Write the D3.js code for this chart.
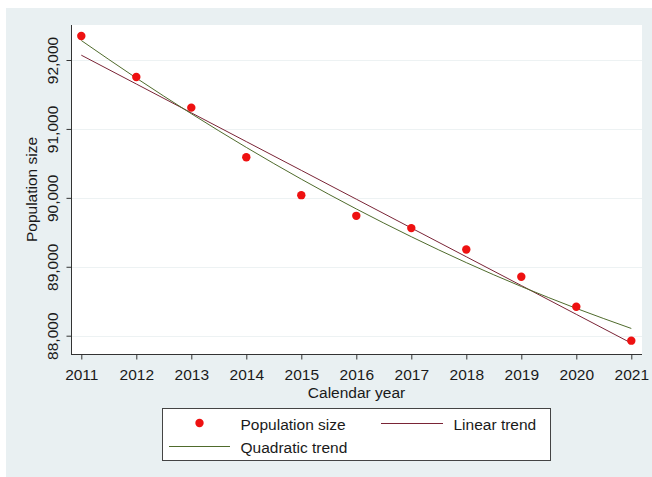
<!DOCTYPE html>
<html>
<head>
<meta charset="utf-8">
<script src="https://cdn.jsdelivr.net/npm/d3@7"></script>
<style>
  html, body { margin: 0; padding: 0; background: #ffffff; }
  svg { display: block; }
  text { font-family: "Liberation Sans", Arial, sans-serif; fill: #1a1a1a; }
</style>
</head>
<body>
<svg id="chart" width="652" height="477"></svg>
<script>
// ---- Data ----
const years = [2011, 2012, 2013, 2014, 2015, 2016, 2017, 2018, 2019, 2020, 2021];
const populationSize = [92348, 91754, 91309, 90590, 90039, 89739, 89561, 89251, 88855, 88420, 87928];
const linearTrend = [92070, 91652, 91234, 90816, 90399, 89981, 89563, 89145, 88728, 88310, 87892];
const quadraticTrend = [92283, 91738, 91221, 90732, 90271, 89839, 89436, 89060, 88714, 88396, 88105];
const yTicks = [88000, 89000, 90000, 91000, 92000];
const xTicks = years;
const seriesNames = ["Population size", "Linear trend", "Quadratic trend"];
const xTitle = "Calendar year";
const yTitle = "Population size";

// ---- Layout ----
const W = 652, H = 477;
const plot = { left: 71, right: 642, top: 25, bottom: 354 };
const colors = { marker: "#ee1111", linear: "#7a2436", quad: "#4f6b2c", axis: "#333333", grid: "#edf2f3", bg: "#e9f0f2" };
const fs = 15.5;

const svg = d3.select("#chart");

// background
svg.append("rect").attr("x", 6).attr("y", 8).attr("width", W - 6).attr("height", H - 8).attr("fill", colors.bg);
svg.append("rect").attr("x", plot.left).attr("y", plot.top)
  .attr("width", plot.right - plot.left).attr("height", plot.bottom - plot.top).attr("fill", "#ffffff");

const x = d3.scaleLinear().domain([2011, 2021]).range([81.3, 631.3]);
const y = d3.scaleLinear().domain([88000, 92000]).range([335.7, 60]);

// grid
svg.append("g").selectAll("line").data(yTicks).join("line")
  .attr("x1", plot.left + 1).attr("x2", plot.right)
  .attr("y1", d => Math.round(y(d)) + 0.5).attr("y2", d => Math.round(y(d)) + 0.5)
  .attr("stroke", colors.grid).attr("stroke-width", 1.2);

// axes
const fmt = d3.format(",");
const yAxis = d3.axisLeft(y).tickValues(yTicks).tickSize(5).tickPadding(4).tickFormat(fmt);
const gy = svg.append("g").attr("transform", `translate(${plot.left + 0.5},0)`).call(yAxis);
gy.select(".domain").attr("d", `M0,${plot.top}V${plot.bottom}`).attr("stroke", colors.axis);
gy.selectAll(".tick line").attr("stroke", colors.axis);
gy.selectAll(".tick text")
  .attr("transform", null)
  .attr("x", null).attr("dy", null)
  .attr("text-anchor", "middle")
  .attr("transform", d => `translate(-14,0) rotate(-90)`)
  .attr("y", 0)
  .style("font-size", fs + "px")
  .style("font-family", '"Liberation Sans", Arial, sans-serif')
  .attr("fill", "#1a1a1a");

const xAxis = d3.axisBottom(x).tickValues(xTicks).tickSize(5).tickPadding(5).tickFormat(d3.format("d"));
const gx = svg.append("g").attr("transform", `translate(0,${plot.bottom + 0.5})`).call(xAxis);
gx.select(".domain").attr("d", `M${plot.left},0H${plot.right}`).attr("stroke", colors.axis);
gx.selectAll(".tick line").attr("stroke", colors.axis);
gx.selectAll(".tick text")
  .attr("y", 25).attr("dy", null)
  .style("font-size", fs + "px")
  .style("font-family", '"Liberation Sans", Arial, sans-serif')
  .attr("fill", "#1a1a1a");

// axis titles
svg.append("text").attr("x", (plot.left + plot.right) / 2).attr("y", 398)
  .attr("text-anchor", "middle").style("font-size", fs + "px").text(xTitle);
svg.append("text").attr("transform", `translate(37,${(plot.top + plot.bottom) / 2}) rotate(-90)`)
  .attr("text-anchor", "middle").style("font-size", fs + "px").text(yTitle);

// lines
const lineGen = vals => d3.line().x((d, i) => x(years[i])).y(d => y(d))(vals);
svg.append("path").attr("d", lineGen(linearTrend)).attr("fill", "none")
  .attr("stroke", colors.linear).attr("stroke-width", 1);
svg.append("path").attr("d", d3.line().curve(d3.curveMonotoneX).x((d, i) => x(years[i])).y(d => y(d))(quadraticTrend))
  .attr("fill", "none").attr("stroke", colors.quad).attr("stroke-width", 1);

// markers
svg.append("g").selectAll("circle").data(populationSize).join("circle")
  .attr("cx", (d, i) => x(years[i])).attr("cy", d => y(d)).attr("r", 4.2)
  .attr("fill", colors.marker);

// legend
const lg = svg.append("g");
lg.append("rect").attr("x", 162.5).attr("y", 408.5).attr("width", 388).attr("height", 52)
  .attr("fill", "#ffffff").attr("stroke", "#444444").attr("stroke-width", 1);
lg.append("circle").attr("cx", 199.5).attr("cy", 423).attr("r", 4.2).attr("fill", colors.marker);
lg.append("text").attr("x", 240.5).attr("y", 429.5).style("font-size", fs + "px").text(seriesNames[0]);
lg.append("line").attr("x1", 381).attr("x2", 443).attr("y1", 423.5).attr("y2", 423.5)
  .attr("stroke", colors.linear).attr("stroke-width", 1);
lg.append("text").attr("x", 453.5).attr("y", 429.5).style("font-size", fs + "px").text(seriesNames[1]);
lg.append("line").attr("x1", 169).attr("x2", 230).attr("y1", 446.5).attr("y2", 446.5)
  .attr("stroke", colors.quad).attr("stroke-width", 1);
lg.append("text").attr("x", 240.5).attr("y", 453).style("font-size", fs + "px").text(seriesNames[2]);
</script>
</body>
</html>
